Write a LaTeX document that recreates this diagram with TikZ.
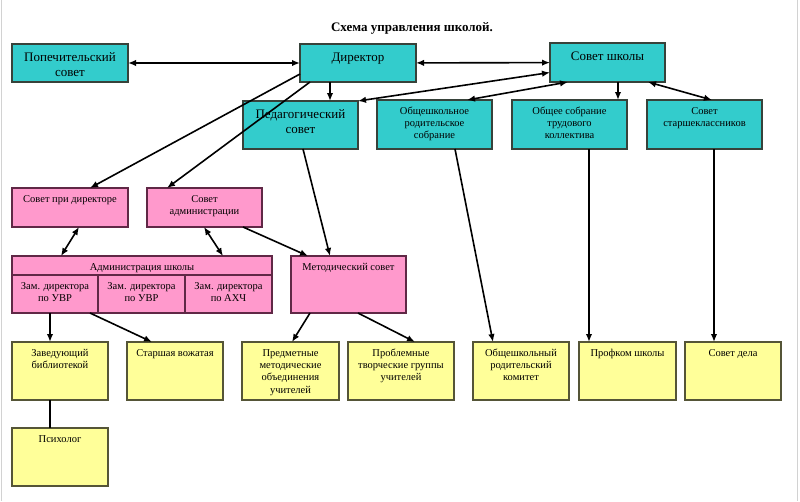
\documentclass[tikz,border=0pt]{standalone}
\usepackage{fontspec}
\setmainfont{Liberation Serif}
\usepackage{tikz}
\usetikzlibrary{positioning}
\usetikzlibrary{calc}
\usetikzlibrary{arrows.meta}

\definecolor{tealfill}{RGB}{51,204,204}
\definecolor{tealedge}{RGB}{55,66,58}
\definecolor{pinkfill}{RGB}{255,153,204}
\definecolor{pinkedge}{RGB}{96,40,70}
\definecolor{yellowfill}{RGB}{255,255,153}
\definecolor{yellowedge}{RGB}{85,85,55}

% box text: width, height, lines (top aligned)
\newcommand{\boxtxt}[3]{\parbox[t][#2][t]{#1}{\selectfont\centering\rule{0pt}{1.35em}#3}}

\begin{document}
\begin{tikzpicture} [
    x=1pt, y=-1pt,                  % pixel grid, y grows downwards
    >={Latex[length=8pt,width=6.5pt]},
    ]
% -------------------------------------------------
\tikzset{
  base/.style={draw, inner sep=0pt, outer sep=0pt, anchor=north west, line width=1.1pt, text=black},
  rect/.style={base, fill=tealfill, draw=tealedge},
  pinkrect/.style={base, fill=pinkfill, draw=pinkedge, font=\fontsize{10.5}{12.3}\selectfont},
  yellowrect/.style={base, fill=yellowfill, draw=yellowedge, font=\fontsize{10.5}{12.3}\selectfont},
  big/.style={font=\fontsize{13}{14.5}\selectfont},
  small/.style={font=\fontsize{10.5}{12.3}\selectfont},
  line/.style={draw, line width=1.6pt}
}

    \useasboundingbox (0,0) rectangle (800,501);
    \draw[gray!35] (1,0) -- (1,501);                                  % page edge left
    \draw[gray!35] (797,0) -- (797,501);                              % page edge right

    \node [font=\bfseries\fontsize{13}{15}\selectfont] (ttl) at (412,28) {Схема управления школой.};

    % top level
    \node [rect, big] (pop) at (12,44) {\boxtxt{116pt}{38pt}{Попечительский\\совет}};
    \node [rect, big] (dir) at (300,44) {\boxtxt{116pt}{38pt}{Директор}};
    \node [rect, big] (sch) at (550,43) {\boxtxt{115pt}{39pt}{Совет школы}};

    \node [rect, big] (ped) at (243,101) {\boxtxt{115pt}{48pt}{Педагогический\\совет}};
    \node [rect, small] (ors) at (377,100) {\boxtxt{115pt}{49pt}{Общешкольное\\родительское\\собрание}};
    \node [rect, small] (osk) at (512,100) {\boxtxt{115pt}{49pt}{Общее собрание\\трудового\\коллектива}};
    \node [rect, small] (ssk) at (647,100) {\boxtxt{115pt}{49pt}{Совет\\старшеклассников}};

    % administration
    \node [pinkrect] (spd) at (12,188) {\boxtxt{116pt}{39pt}{Совет при директоре}};
    \node [pinkrect, right=19pt of spd] (sad) {\boxtxt{115pt}{39pt}{Совет\\администрации}};

    \node [pinkrect] (adm) at (12,256) {\boxtxt{260pt}{19pt}{Администрация школы}};
    \node [pinkrect] (zam1) at (adm.south west) {\boxtxt{86pt}{38pt}{Зам. директора\\по УВР}};
    \node [pinkrect] (zam2) at (zam1.north east) {\boxtxt{87pt}{38pt}{Зам. директора\\по УВР}};
    \node [pinkrect] (zam3) at (zam2.north east) {\boxtxt{87pt}{38pt}{Зам. директора\\по АХЧ}};
    \node [pinkrect] (mts) at (291,256) {\boxtxt{115pt}{57pt}{Методический совет}};

    % bottom row
    \node [yellowrect] (zav) at (12,342) {\boxtxt{96pt}{58pt}{Заведующий\\библиотекой}};
    \node [yellowrect] (vozh) at (127,342) {\boxtxt{96pt}{58pt}{Старшая вожатая}};
    \node [yellowrect] (pmo) at (242,342) {\boxtxt{97pt}{58pt}{Предметные\\методические\\объединения\\учителей}};
    \node [yellowrect] (ptg) at (348,342) {\boxtxt{106pt}{58pt}{Проблемные\\творческие группы\\учителей}};
    \node [yellowrect] (ork) at (473,342) {\boxtxt{96pt}{58pt}{Общешкольный\\родительский\\комитет}};
    \node [yellowrect] (prof) at (579,342) {\boxtxt{97pt}{58pt}{Профком школы}};
    \node [yellowrect] (sd) at (685,342) {\boxtxt{96pt}{58pt}{Совет дела}};
    \node [yellowrect, below=28pt of zav] (psy) {\boxtxt{96pt}{58pt}{Психолог}};

    \path [line, <->] (pop) -- (dir);
    \path [line, <->] (dir) -- (sch);
    \path [line, <->] ([yshift=-10pt]sch.west) -- (ped.north east);
    \path [line, ->] ([xshift=30pt]dir.south west) -- ([xshift=87pt]ped.north west);

    \path [line, <->] ([xshift=18pt]sch.south west) -- ([xshift=90pt]ors.north west);
    \path [line, ->] ([xshift=68pt]sch.south west) -- ([xshift=106pt]osk.north west);
    \path [line, <->] ([xshift=-17pt]sch.south east) -- ([xshift=65pt]ssk.north west);

    \path [line, ->] ([yshift=-11pt]dir.west) -- ([xshift=78pt]spd.north west);
    \path [line, ->] ([xshift=10pt]dir.south west) -- ([xshift=20pt]sad.north west);
    \path [line, ->] ([xshift=60pt]ped.south west) -- ([xshift=39pt]mts.north west);

    \path [line, <->] ([xshift=67pt]spd.south west) -- ([xshift=49pt]adm.north west);
    \path [line, <->] ([xshift=57pt]sad.south west) -- ([xshift=211pt]adm.north west);
    \path [line, ->] ([xshift=96pt]sad.south west) -- ([xshift=17pt]mts.north west);

    \path [line, ->] ([xshift=38pt]zam1.south west) -- ([xshift=38pt]zav.north west);
    \path [line, ->] ([xshift=78pt]zam1.south west) -- ([xshift=25pt]vozh.north west);
    \path [line, ->] ([xshift=19pt]mts.south west) -- ([xshift=50pt]pmo.north west);
    \path [line, ->] ([xshift=67pt]mts.south west) -- ([xshift=67pt]ptg.north west);

    \path [line, ->] ([xshift=78pt]ors.south west) -- ([xshift=20pt]ork.north west);
    \path [line, ->] ([xshift=77pt]osk.south west) -- ([xshift=10pt]prof.north west);
    \path [line, ->] ([xshift=67pt]ssk.south west) -- ([xshift=29pt]sd.north west);

    \path [line] ([xshift=38pt]zav.south west) -- ([xshift=38pt]psy.north west);

\end{tikzpicture}
\end{document}
